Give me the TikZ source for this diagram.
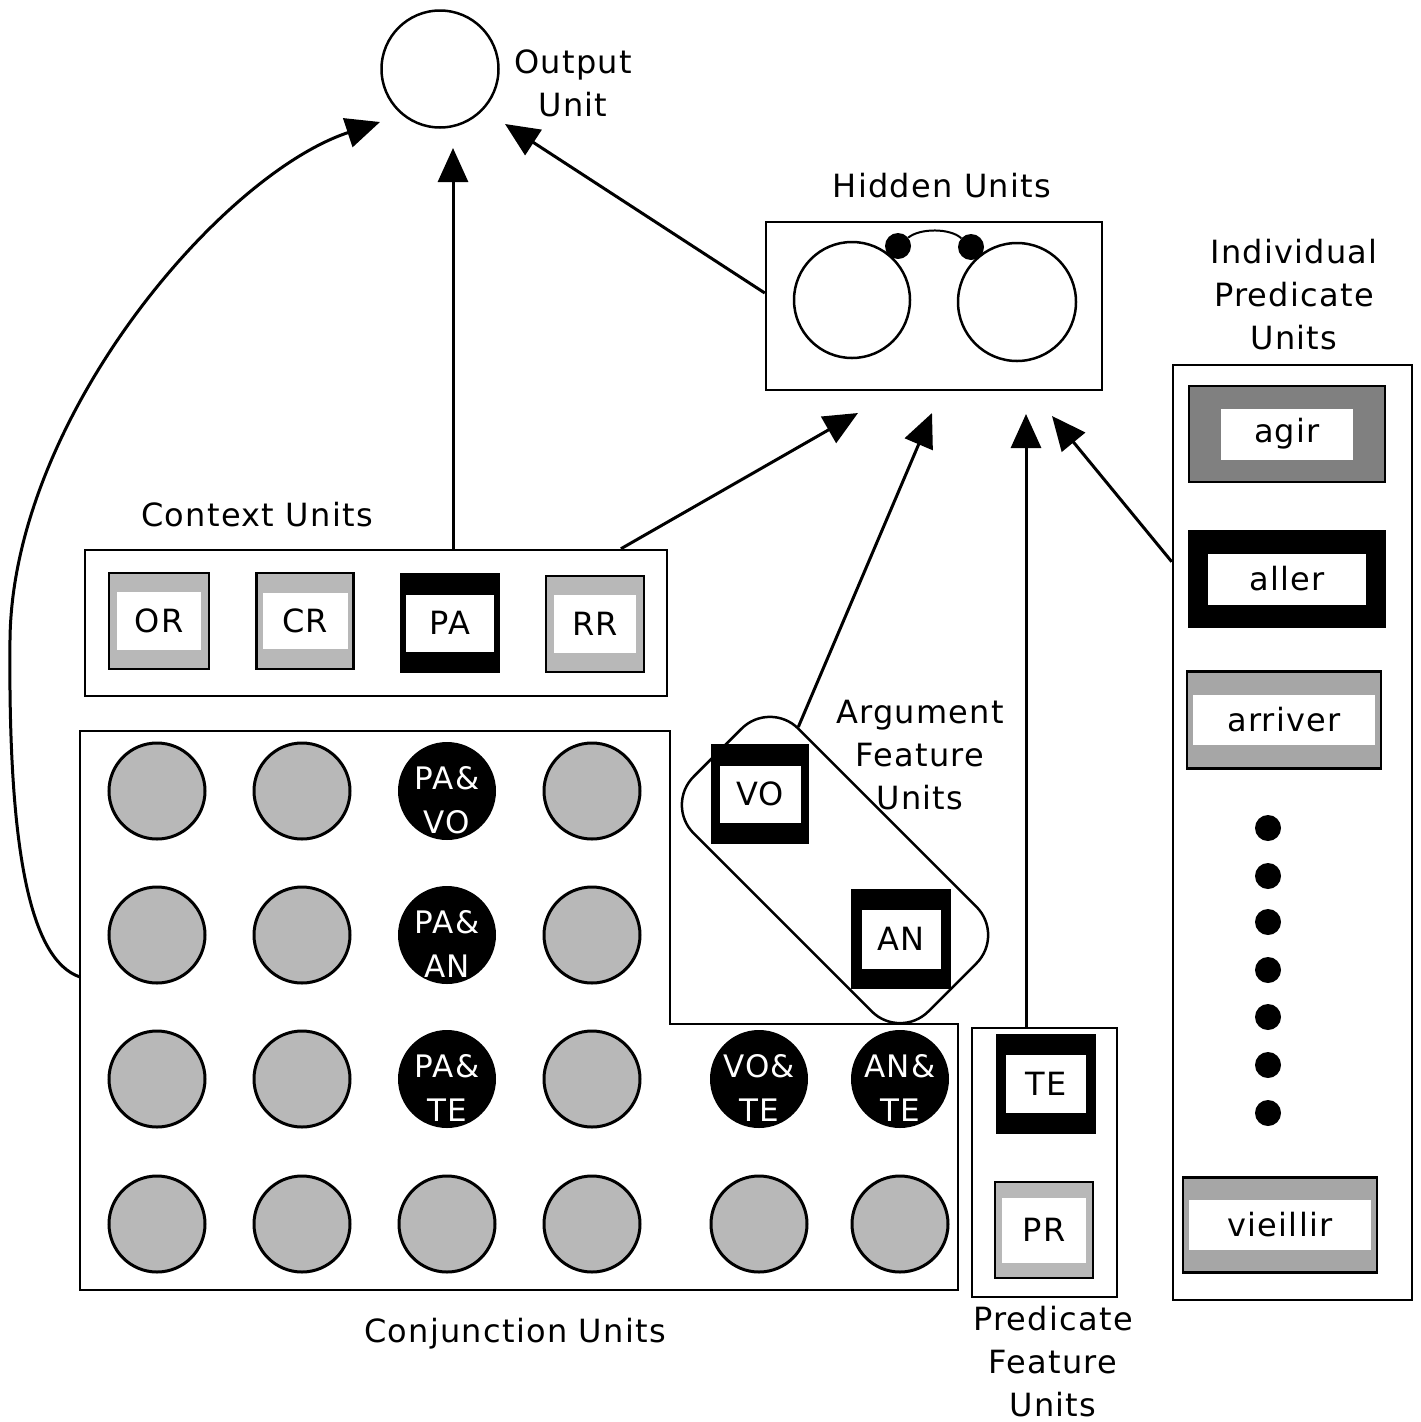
\documentclass[tikz,border=0pt]{standalone}
\usepackage{fontspec}
\setmainfont{DejaVu Sans}[LetterSpace=4.0]
\usetikzlibrary{arrows.meta,calc}
\newcommand\dtxt{\fontsize{32}{43}\selectfont}
\newcommand\unitbox[9]{%
  \node[draw=black, line width=2.5pt, fill=#8, minimum width=#4pt, minimum height=#5pt, inner sep=0pt] (#1) at (#2,#3) {};
  \node[fill=white, minimum width=#6pt, minimum height=#7pt, inner sep=0pt, font=\dtxt] (#1-t) at (#1) {#9};
}
\begin{document}
\begin{tikzpicture}[x=1pt,y=-1pt,
  lbl/.style={font=\dtxt, align=center, inner sep=0pt},
  arr/.style={-{Triangle[length=34pt,width=30pt]}, line width=3pt},
  cont/.style={draw, line width=2.5pt, inner sep=0pt},
  gcirc/.style={circle, draw, line width=3pt, fill=black!28, minimum size=96pt, inner sep=0pt},
  bcirc/.style={circle, fill=black, minimum size=98pt, inner sep=0pt},
  ctext/.style={text=white, align=center, inner sep=0pt, font=\fontsize{31}{44}\selectfont},
  dot/.style={circle, fill=black, minimum size=26pt, inner sep=0pt}]
\useasboundingbox (0,0) rectangle (1421,1422);
\fill[white] (0,0) rectangle (1421,1422);

% output unit
\node[circle, draw, line width=2.5pt, minimum size=117pt, inner sep=0pt] (out) at (440,69) {};
\node[lbl] (outl) at (573,83) {Output\\Unit};

% hidden units
\node[cont, minimum width=336pt, minimum height=168pt] (hid) at (934,306) {};
\node[circle, draw, line width=2.5pt, minimum size=116pt, inner sep=0pt] (hl) at (852,300) {};
\node[circle, draw, line width=2.5pt, minimum size=118pt, inner sep=0pt] (hr) at (1017,302) {};
\node[dot] (hd1) at (898,246) {};
\node[dot] (hd2) at (971,247) {};
\draw[line width=2pt] (hd1) .. controls (920,228) and (950,228) .. (hd2);
\node[lbl] (hidl) at (942,186) {Hidden Units};

% individual predicate units
\node[lbl] (ipl) at (1294,295) {Individual\\Predicate\\Units};
\node[cont, minimum width=239pt, minimum height=935pt] (ipb) at (1292.5,832.5) {};
\unitbox{agir}{1287}{434}{196}{96}{132}{51}{black!50}{agir}
\unitbox{aller}{1287}{579}{196}{96}{158}{51}{black}{aller}
\unitbox{arriver}{1284}{720}{194}{97}{182}{50}{black!35}{arriver}
\unitbox{vieillir}{1280}{1225}{194}{95}{182}{50}{black!35}{vieillir}
\foreach \i/\y in {1/828,2/876,3/922,4/970,5/1017,6/1065,7/1113}
  \node[dot] (d\i) at (1268,\y) {};

% context units
\node[lbl] (ctxl) at (257,515) {Context Units};
\node[cont, minimum width=582pt, minimum height=146pt] (ctx) at (376,623) {};
\unitbox{OR}{159}{621}{100}{96}{84}{58}{black!28}{OR}
\unitbox{CR}{305}{621}{97}{96}{85}{56}{black!28}{CR}
\unitbox{PA}{450}{623}{98}{98}{88}{57}{black}{PA}
\unitbox{RR}{595}{624}{98}{96}{82}{58}{black!28}{RR}

% argument feature units
\node[draw, line width=2.5pt, rounded corners=40pt, minimum width=332pt, minimum height=148pt, rotate=-45, inner sep=0pt] (argbox) at (835,870) {};
\unitbox{VO}{760}{794}{95}{98}{81}{57}{black}{VO}
\unitbox{AN}{901}{939}{97}{98}{79}{59}{black}{AN}
\node[lbl] (argl) at (920,755) {Argument\\Feature\\Units};

% predicate feature units
\node[cont, minimum width=145pt, minimum height=269pt] (pfb) at (1044.5,1162.5) {};
\unitbox{TE}{1046}{1084}{98}{98}{80}{58}{black}{TE}
\unitbox{PR}{1044}{1230}{98}{96}{84}{65}{black!28}{PR}
\node[lbl] (pfl) at (1053,1362) {Predicate\\Feature\\Units};

% conjunction units
\draw[line width=2.5pt] (80,731) -- (670,731) -- (670,1024) -- (958,1024) -- (958,1290) -- (80,1290) -- cycle;
\coordinate (conjL) at (80,977);
\foreach \x/\y [count=\k] in {157/791,302/791,592/791,157/935,302/935,592/935,157/1079,302/1079,592/1079,157/1224,302/1224,447/1224,592/1224,759/1224,900/1224}
  \node[gcirc] (g\k) at (\x,\y) {};
\foreach \x/\y/\a/\b [count=\k] in {447/791/PA/VO,447/935/PA/AN,447/1079/PA/TE,759/1079/VO/TE,900/1079/AN/TE}{
  \node[bcirc] (b\k) at (\x,\y) {};
  \node[ctext] (bt\k) at ($(b\k)+(0,9)$) {\a\&\\\b};
}
\node[lbl] (conjl) at (515,1334) {Conjunction Units};

% arrows
\coordinate (t1) at (380,122);
\coordinate (t2) at (453,148);
\coordinate (t3) at (505,124);
\coordinate (t4) at (858,413);
\coordinate (t5) at (932,413);
\coordinate (t6) at (1026,414);
\coordinate (t7) at (1052,416);
\draw[arr] (conjL) .. controls (30,960) and (8,850) .. (10,640) .. controls (12,420) and (220,175) .. (t1);
\draw[arr] (ctx.north -| t2) -- (t2);
\draw[arr] ($(hid.west)+(0,-13)$) -- (t3);
\draw[arr] ($(ctx.north west)!0.919!(ctx.north east)$) -- (t4);
\draw[arr] ($(argbox.north west)!0.12!(argbox.north east)$) -- (t5);
\draw[arr] (pfb.north -| t6) -- (t6);
\draw[arr] ($(ipb.north west)+(0,198)$) -- (t7);
\end{tikzpicture}
\end{document}
